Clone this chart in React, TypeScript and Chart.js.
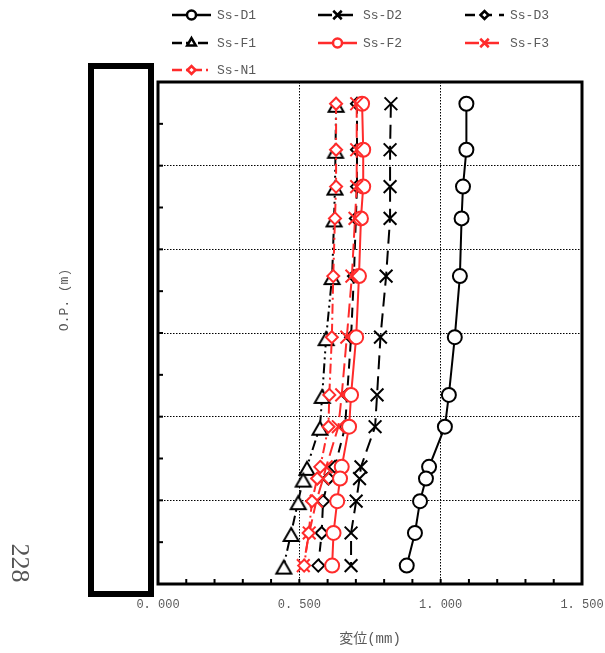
import React, { useEffect, useRef } from 'react';
import { Chart, registerables } from 'chart.js';
import { drawPoint } from 'chart.js/helpers';

Chart.register(...registerables);

// ---------- data ----------
const levels = [7.4, 1.9, -2.5, -6.3, -13.2, -20.5, -27.4, -31.2, -36.0, -37.4, -40.1, -43.9, -47.8];
const seriesNames = ['Ss-D1', 'Ss-D2', 'Ss-D3', 'Ss-F1', 'Ss-F2', 'Ss-F3', 'Ss-N1'];
const ssD1 = [1.091, 1.091, 1.079, 1.074, 1.068, 1.050, 1.029, 1.015, 0.959, 0.948, 0.927, 0.909, 0.880];
const ssD2 = [0.824, 0.821, 0.821, 0.821, 0.807, 0.787, 0.775, 0.768, 0.718, 0.713, 0.701, 0.683, 0.683];
const ssD3 = [0.704, 0.704, 0.704, 0.700, 0.693, 0.683, 0.669, 0.662, 0.626, 0.603, 0.584, 0.579, 0.567];
const ssF1 = [0.630, 0.628, 0.626, 0.623, 0.616, 0.595, 0.581, 0.573, 0.527, 0.514, 0.496, 0.471, 0.445];
const ssF2 = [0.722, 0.726, 0.726, 0.718, 0.711, 0.701, 0.683, 0.676, 0.650, 0.644, 0.634, 0.621, 0.616];
const ssF3 = [0.703, 0.703, 0.703, 0.697, 0.686, 0.668, 0.650, 0.638, 0.595, 0.584, 0.560, 0.535, 0.514];
const ssN1 = [0.630, 0.630, 0.630, 0.626, 0.620, 0.615, 0.606, 0.603, 0.574, 0.563, 0.545, 0.533, 0.517];
const seriesValues = [ssD1, ssD2, ssD3, ssF1, ssF2, ssF3, ssN1];
const xTickValues = [0, 0.5, 1.0, 1.5];
const xAxisTitle = '変位(mm)';
const yAxisTitle = 'O.P. (m)';
const pageNumber = '228';

// ---------- styles / layout ----------
const W = 605;
const H = 653;
const FONT = "'Liberation Mono', 'Noto Sans CJK JP', monospace";
const TEXT = '#595959';
const RED = '#ff2b2b';

// triangle marker whose body sits slightly below its anchor point (as in the reference)
function makeTriangle(color: string): HTMLCanvasElement {
  const c = document.createElement('canvas');
  c.width = 22;
  c.height = 30;
  const g = c.getContext('2d')!;
  const cx = 11;
  const cy = 15;
  g.beginPath();
  g.moveTo(cx, cy - 5);
  g.lineTo(cx + 7.5, cy + 8);
  g.lineTo(cx - 7.5, cy + 8);
  g.closePath();
  g.fillStyle = '#fff';
  g.fill();
  g.lineWidth = 2;
  g.lineJoin = 'miter';
  g.strokeStyle = color;
  g.stroke();
  return c;
}

const seriesStyles = [
  { color: '#000', dash: [] as number[], point: 'circle', r: 7, lr: 4.5 },
  { color: '#000', dash: [14, 7], point: 'crossRot', r: 9, lr: 6 },
  { color: '#000', dash: [10, 7], point: 'rectRot', r: 6, lr: 4 },
  { color: '#000', dash: [10, 4, 2, 4, 2, 4], point: 'triangle', r: 8, lr: 5 },
  { color: RED, dash: [] as number[], point: 'circle', r: 7, lr: 4.5 },
  { color: RED, dash: [14, 6], point: 'crossRot', r: 9, lr: 6 },
  { color: RED, dash: [10, 4, 2, 4], point: 'rectRot', r: 6, lr: 4 },
];
const legendCols = [172, 318, 465];
const legendRows = [15, 43, 70];

const fmtTick = (v: number) => Number(v).toFixed(3).replace('.', '. ');

const decorPlugin = {
  id: 'decor',
  afterDraw(chart: any) {
    const { ctx, chartArea: a, scales } = chart;
    const xs = scales.x;
    const ys = scales.y;
    ctx.save();
    // minor ticks (inward)
    ctx.strokeStyle = '#000';
    ctx.lineWidth = 2;
    ctx.setLineDash([]);
    for (let k = 1; k < 15; k++) {
      const px = xs.getPixelForValue(k / 10);
      ctx.beginPath();
      ctx.moveTo(px, a.bottom);
      ctx.lineTo(px, a.bottom - 5);
      ctx.stroke();
    }
    for (let v = -45; v < 10; v += 5) {
      const py = ys.getPixelForValue(v);
      ctx.beginPath();
      ctx.moveTo(a.left, py);
      ctx.lineTo(a.left + 5, py);
      ctx.stroke();
    }
    // plot frame
    ctx.lineWidth = 3;
    ctx.strokeRect(a.left, a.top, a.right - a.left, a.bottom - a.top);
    // thick left box
    ctx.lineWidth = 6;
    ctx.strokeRect(91, 66, 60, 528);

    // legend
    chart.data.datasets.forEach((ds: any, i: number) => {
      const st = seriesStyles[i];
      const x = legendCols[i % 3];
      const y = legendRows[Math.floor(i / 3)];
      ctx.strokeStyle = st.color;
      ctx.lineWidth = 2.5;
      ctx.setLineDash(st.dash);
      ctx.beginPath();
      ctx.moveTo(x, y);
      ctx.lineTo(x + 39, y);
      ctx.stroke();
      ctx.setLineDash([]);
      ctx.fillStyle = '#fff';
      ctx.strokeStyle = st.color;
      ctx.lineWidth = 2.5;
      drawPoint(ctx, { pointStyle: st.point, radius: st.lr, rotation: 0, borderWidth: 2.5 } as any, x + 19.5, y);
      ctx.fillStyle = TEXT;
      ctx.font = `13px ${FONT}`;
      ctx.textAlign = 'left';
      ctx.textBaseline = 'middle';
      ctx.fillText(ds.label, x + 45, y + 1);
    });

    // y title
    ctx.fillStyle = TEXT;
    ctx.font = `13px ${FONT}`;
    ctx.save();
    ctx.translate(65, 300);
    ctx.rotate(-Math.PI / 2);
    ctx.textAlign = 'center';
    ctx.textBaseline = 'middle';
    ctx.fillText(yAxisTitle, 0, 0);
    ctx.restore();

    // page number
    ctx.save();
    ctx.font = "26px 'Liberation Serif', serif";
    ctx.fillStyle = '#555';
    ctx.translate(19, 563);
    ctx.rotate(Math.PI / 2);
    ctx.textAlign = 'center';
    ctx.textBaseline = 'middle';
    ctx.fillText(pageNumber, 0, 0);
    ctx.restore();

    ctx.restore();
  },
};

export default function App() {
  const ref = useRef<HTMLCanvasElement>(null);
  useEffect(() => {
    const canvas = ref.current!;
    const blackTriangle = makeTriangle('#000');
    const datasets = seriesNames.map((name, i) => {
      const st = seriesStyles[i];
      return {
        label: name,
        data: seriesValues[i].map((v, k) => ({ x: v, y: levels[k] })),
        showLine: true,
        borderColor: st.color,
        borderWidth: 2,
        borderDash: st.dash,
        pointStyle: st.point === 'triangle' ? blackTriangle : st.point,
        pointRadius: st.r,
        pointBorderWidth: 2,
        pointBorderColor: st.color,
        pointBackgroundColor: '#fff',
        order: 6 - i,
        tension: 0,
      };
    });
    const chart = new Chart(canvas, {
      type: 'scatter',
      data: { datasets } as any,
      plugins: [decorPlugin],
      options: {
        responsive: false,
        animation: false,
        devicePixelRatio: 1,
        layout: { padding: { left: 158, right: 23, top: 82, bottom: 0 } },
        plugins: { legend: { display: false }, tooltip: { enabled: false } },
        scales: {
          x: {
            type: 'linear',
            min: 0,
            max: 1.5,
            afterFit: (s: any) => {
              s.height = 69;
              s.paddingLeft = 0;
              s.paddingRight = 0;
            },
            afterBuildTicks: (s: any) => { s.ticks = xTickValues.map((v) => ({ value: v })); },
            ticks: {
              callback: (v: any) => fmtTick(v),
              color: TEXT,
              font: { family: FONT, size: 12 },
              padding: 14,
              maxRotation: 0,
              autoSkip: false,
            },
            grid: {
              drawTicks: false,
              lineWidth: 1,
              color: (c: any) => (c.tick && (c.tick.value === 0.5 || c.tick.value === 1) ? '#000' : 'transparent'),
            },
            border: { display: false, dash: [1.5, 1.5] },
            title: {
              display: true,
              text: xAxisTitle,
              color: TEXT,
              font: { family: FONT, size: 14 },
              padding: { top: 0, bottom: 5 },
            },
          },
          y: {
            type: 'linear',
            min: -50,
            max: 10,
            afterFit: (s: any) => { s.width = 0; },
            ticks: { display: false, stepSize: 10 },
            grid: {
              drawTicks: false,
              lineWidth: 1,
              color: (c: any) => (c.tick && c.tick.value > -50 && c.tick.value < 10 ? '#000' : 'transparent'),
            },
            border: { display: false, dash: [1.5, 1.5] },
          },
        },
      } as any,
    });
    return () => chart.destroy();
  }, []);
  return (
    <div style={{ position: 'absolute', left: 0, top: 0, width: W, height: H, background: '#fff' }}>
      <canvas ref={ref} width={W} height={H} style={{ width: W, height: H, display: 'block' }} />
    </div>
  );
}
